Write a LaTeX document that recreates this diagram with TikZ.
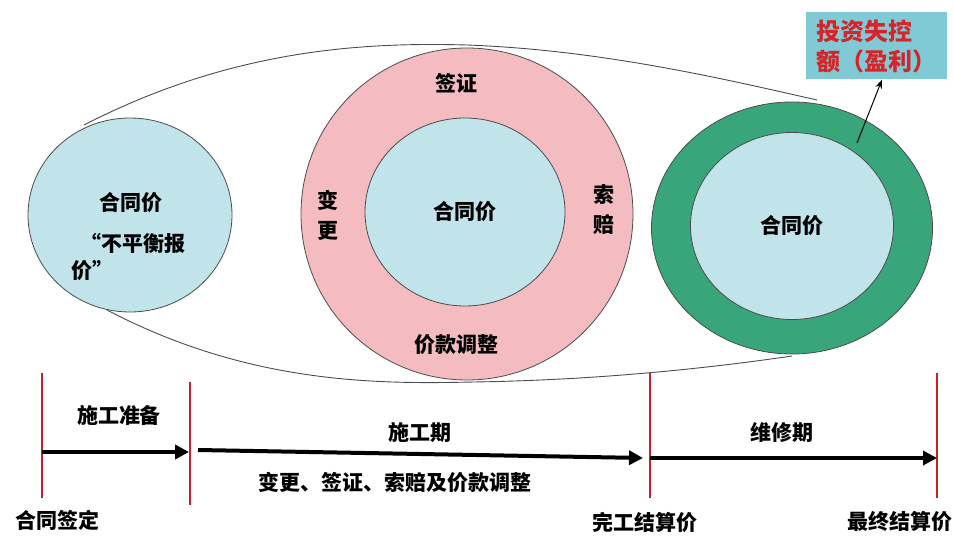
\documentclass[tikz,border=0pt]{standalone}
\usepackage{fontspec}
\newfontfamily\cjk{Noto Sans CJK SC}
\usetikzlibrary{shapes.geometric,arrows.meta,positioning}
\definecolor{skyfill}{RGB}{192,228,234}
\definecolor{pinkfill}{RGB}{244,188,192}
\definecolor{greenfill}{RGB}{56,165,122}
\definecolor{boxfill}{RGB}{128,202,214}
\definecolor{boxred}{RGB}{214,36,40}
\definecolor{tickred}{RGB}{200,30,40}
\tikzstyle{disc} = [ellipse, draw=black!70, line width=0.8pt, inner sep=0pt]
\tikzstyle{word} = [font=\cjk\bfseries\fontsize{21}{30}\selectfont, inner sep=0pt, align=center]
\tikzstyle{redtick} = [draw=tickred, line width=1.4pt]
\tikzstyle{timearrow} = [line width=4pt, -{Triangle[length=14pt,width=14pt]}]
\tikzstyle{envelope} = [draw=black!70, line width=0.9pt]
\tikzstyle{pointer} = [line width=1pt, -{Stealth[length=9pt,width=7pt]}]
\begin{document}
\begin{tikzpicture}[x=1pt, y=-1pt]
	\useasboundingbox (0,0) rectangle (954,540);

	% envelope curves round the three stages
	\coordinate (topstart) at (84,125);
	\coordinate (topmid) at (467,45);
	\coordinate (topend) at (817,100);
	\coordinate (botstart) at (107,310);
	\coordinate (botmid) at (474,382);
	\coordinate (botend) at (792,356);
	\draw[envelope] (topstart) .. controls (230,50) and (360,42) .. (topmid) .. controls (600,50) and (720,78) .. (topend);
	\draw[envelope] (botstart) .. controls (250,385) and (380,384) .. (botmid) .. controls (600,380) and (710,368) .. (botend);

	\node (left) [disc, fill=skyfill, minimum width=204pt, minimum height=194pt] at (130,215) {};
	\node (lp1) [word] at (131,203) {合同价};
	\node (lp2) [word, anchor=west] at (80,243) {“不平衡报};
	\node (lp3) [word, anchor=west] at (71,271) {价”};

	\node (pink) [disc, fill=pinkfill, minimum width=332pt, minimum height=332pt] at (467,214) {};
	\node (pinner) [disc, word, fill=skyfill, minimum width=200pt, minimum height=188pt] at (465,212) {合同价};
	\node (visa) [word] at (456,83) {签证};
	\node (change) [word] at (328,215) {变\\更};
	\node (claim) [word] at (604,210) {索\\赔};
	\node (adjust) [word] at (456,345) {价款调整};

	\node (green) [disc, fill=greenfill, minimum width=281pt, minimum height=252pt] at (792,228) {};
	\node (ginner) [disc, word, fill=skyfill, minimum width=203pt, minimum height=187pt] at (792,226) {合同价};

	\node (loss) [fill=boxfill, font=\cjk\bfseries\fontsize{24}{30}\selectfont, text=boxred, align=left, minimum width=141pt, minimum height=67pt, inner sep=0pt] at (876,46) {投资失控\\额（盈利）};
	\coordinate (ringpt) at (857,143);
	\draw[pointer] (ringpt) -- ([xshift=6pt]loss.south);

	% time line
	\draw[redtick] (42,373) -- (42,498);
	\draw[redtick] (190,382) -- (190,505);
	\draw[redtick] (650,373) -- (650,498);
	\draw[redtick] (937,373) -- (937,498);

	\coordinate (a0) at (42,452);
	\coordinate (a1) at (189,452);
	\coordinate (b0) at (198,450);
	\coordinate (b1) at (643,458);
	\coordinate (c0) at (650,458);
	\coordinate (c1) at (937,458);
	\draw[timearrow] (a0) -- (a1);
	\draw[timearrow] (b0) -- (b1);
	\draw[timearrow] (c0) -- (c1);

	\node (prep) [word] at (119,415) {施工准备};
	\node (build) [word] at (420,432) {施工期};
	\node (repair) [word] at (782,432) {维修期};
	\node (works) [word] at (395,482) {变更、签证、索赔及价款调整};
	\node (sign) [word] at (58,520) {合同签定};
	\node (done) [word] at (645,522) {完工结算价};
	\node (final) [word] at (900,522) {最终结算价};
\end{tikzpicture}
\end{document}
